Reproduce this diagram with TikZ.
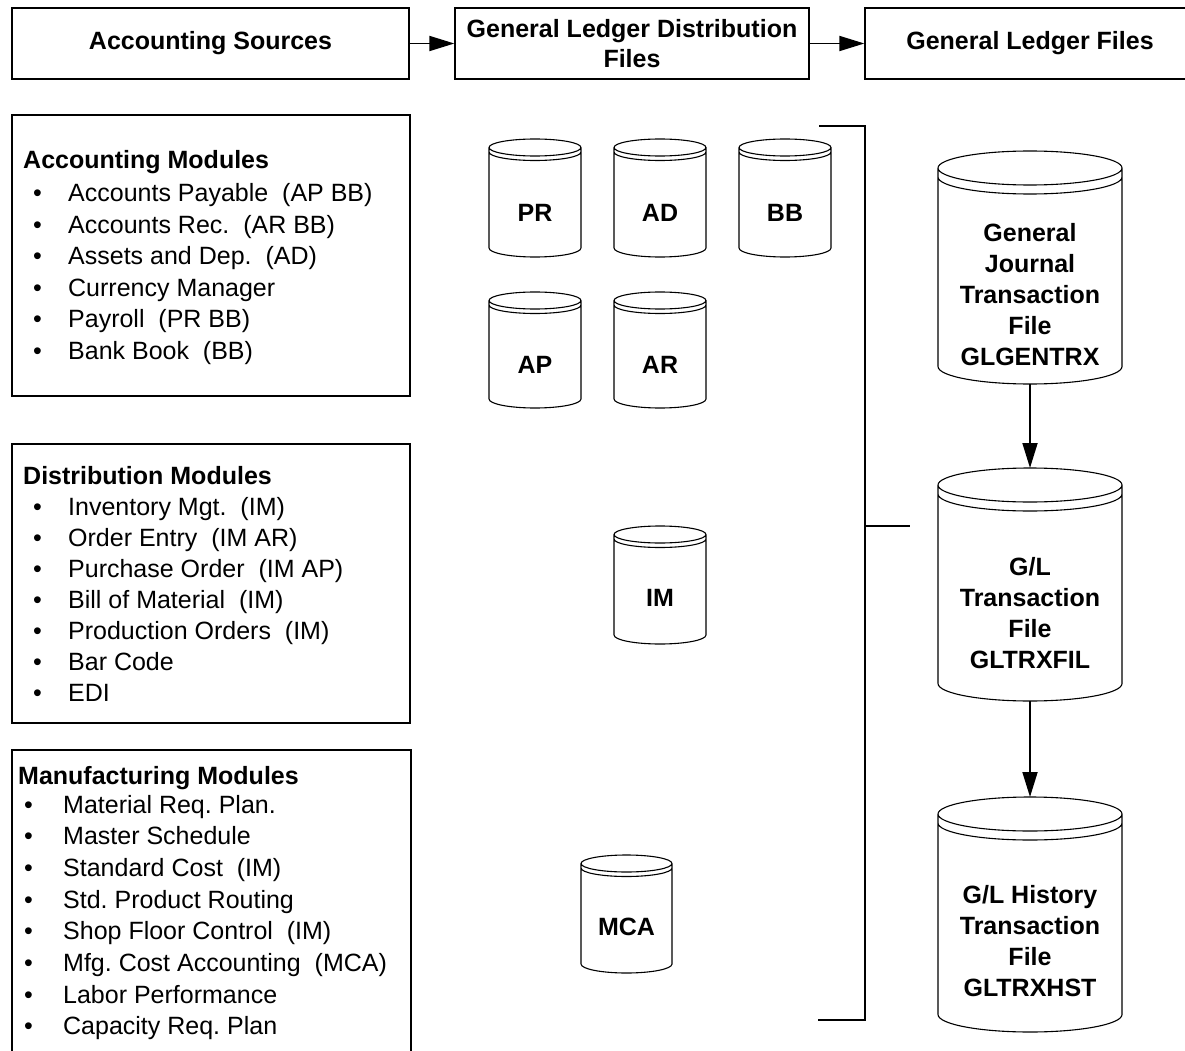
\documentclass[tikz,border=0pt]{standalone}
\usepackage{fontspec}
\setmainfont{Liberation Sans}
\usetikzlibrary{arrows.meta,calc}
\newcommand\drawcyl[4]{% node, top ry, offset, bottom ry
  \draw[cylline] let \p1=(#1.north west), \p2=(#1.south east), \n1={(\x2-\x1)/2} in
    (\x1,{\y1-#2}) -- (\x1,{\y2+#4})
    arc[start angle=180, end angle=360, x radius=\n1, y radius=#4]
    -- (\x2,{\y1-#2})
    arc[start angle=0, end angle=360, x radius=\n1, y radius=#2]
    (\x1,{\y1-#2-#3}) arc[start angle=180, end angle=360, x radius=\n1, y radius=#2];
}
\begin{document}
\begin{tikzpicture}[x=1pt,y=-1pt,
  box/.style={draw, line width=1.3pt, inner sep=0pt},
  bold/.style={font=\bfseries\fontsize{25}{30}\selectfont\frenchspacing, align=center},
  cylnode/.style={inner sep=0pt, outer sep=0pt},
  lbl/.style={inner sep=0pt, font=\bfseries\fontsize{25}{31}\selectfont, align=center},
  cylline/.style={line width=1.1pt},
  arr/.style={line width=1.8pt, -{Triangle[length=25pt,width=15pt]}},
  brk/.style={line width=1.8pt},
  head/.style={anchor=base west, inner sep=0pt, font=\bfseries\fontsize{25}{31}\selectfont},
  item/.style={anchor=base west, inner sep=0pt, font=\fontsize{25}{31}\selectfont\frenchspacing},
]
\useasboundingbox (0,0) rectangle (1185,1051);

% top row
\node[box, bold, minimum width=397pt, minimum height=71pt] (src) at (210.5,43.5) {Accounting Sources};
\node[box, bold, minimum width=354pt, minimum height=71pt] (gld) at (632,43.5) {General Ledger Distribution\\Files};
\node[box, bold, minimum width=330pt, minimum height=71pt] (glf) at (1030,43.5) {General Ledger Files};
\draw[arr] (src.east) -- (gld.west);
\draw[arr] (gld.east) -- (glf.west);

% module boxes
\node[box, minimum width=398pt, minimum height=281pt] (accbox) at (211,255.5) {};
\node[box, minimum width=398pt, minimum height=279pt] (disbox) at (211,583.5) {};
\node[box, minimum width=399pt, minimum height=340pt] (manbox) at (211.5,920) {};

\node[head] (acch) at (23,169) {Accounting Modules};
\foreach \t [count=\i] in {{Accounts Payable\ \ (AP BB)},{Accounts Rec.\ \ (AR BB)},{Assets and Dep.\ \ (AD)},{Currency Manager},{Payroll\ \ (PR BB)},{Bank Book\ \ (BB)}}
  \node[item] (acc\i) at (33,{201.7+31.5*(\i-1)}) {\makebox[35pt][l]{•}\t};

\node[head] (dish) at (23,484) {Distribution Modules};
\foreach \t [count=\i] in {{Inventory Mgt.\ \ (IM)},{Order Entry\ \ (IM AR)},{Purchase Order\ \ (IM AP)},{Bill of Material\ \ (IM)},{Production Orders\ \ (IM)},{Bar Code},{EDI}}
  \node[item] (dis\i) at (33,{515+31.1*(\i-1)}) {\makebox[35pt][l]{•}\t};

\node[head] (manh) at (18,784) {Manufacturing Modules};
\foreach \t [count=\i] in {{Material Req. Plan.},{Master Schedule},{Standard Cost\ \ (IM)},{Std. Product Routing},{Shop Floor Control\ \ (IM)},{Mfg. Cost Accounting\ \ (MCA)},{Labor Performance},{Capacity Req. Plan}}
  \node[item] (man\i) at (24,{813+31.7*(\i-1)}) {\makebox[39pt][l]{•}\t};

% small cylinders
\node[cylnode, minimum width=92pt, minimum height=118pt, label={[lbl, yshift=-15pt]center:PR}] (pr) at (535,198) {};
\node[cylnode, minimum width=92pt, minimum height=118pt, label={[lbl, yshift=-15pt]center:AD}] (ad) at (660,198) {};
\node[cylnode, minimum width=92pt, minimum height=118pt, label={[lbl, yshift=-15pt]center:BB}] (bb) at (785,198) {};
\node[cylnode, minimum width=92pt, minimum height=116pt, label={[lbl, yshift=-15pt]center:AP}] (ap) at (535,350) {};
\node[cylnode, minimum width=92pt, minimum height=116pt, label={[lbl, yshift=-15pt]center:AR}] (ar) at (660,350) {};
\node[cylnode, minimum width=92pt, minimum height=118pt, label={[lbl, yshift=-13pt]center:IM}] (im) at (660,585) {};
\node[cylnode, minimum width=91pt, minimum height=118pt, label={[lbl, yshift=-13pt]center:MCA}] (mca) at (626.5,914) {};
\foreach \c in {pr,ad,bb,ap,ar,im,mca} { \drawcyl{\c}{8.5pt}{4.5pt}{9pt} }

% large cylinders
\node[cylnode, minimum width=184pt, minimum height=233pt, label={[lbl, yshift=-27.5pt]center:General\\Journal\\Transaction\\File\\GLGENTRX}] (gl1) at (1030,267.5) {};
\node[cylnode, minimum width=184pt, minimum height=233pt, label={[lbl, yshift=-28.5pt]center:G/L\\Transaction\\File\\GLTRXFIL}] (gl2) at (1030,584.5) {};
\node[cylnode, minimum width=184pt, minimum height=235pt, label={[lbl, yshift=-26.5pt]center:G/L History\\Transaction\\File\\GLTRXHST}] (gl3) at (1030,914.5) {};
\foreach \c in {gl1,gl2,gl3} { \drawcyl{\c}{17pt}{9pt}{17.5pt} }
\draw[arr] (gl1.south) -- (gl2.north);
\draw[arr] (gl2.south) -- (gl3.north);

% bracket
\coordinate (bktop) at (819,126);
\coordinate (bkbot) at (818,1020);
\coordinate (bkx) at (865,526);
\coordinate (bkend) at (910,526);
\draw[brk] (bktop) -| (bkx) |- (bkbot);
\draw[brk] (bkx) -- (bkend);
\end{tikzpicture}
\end{document}
